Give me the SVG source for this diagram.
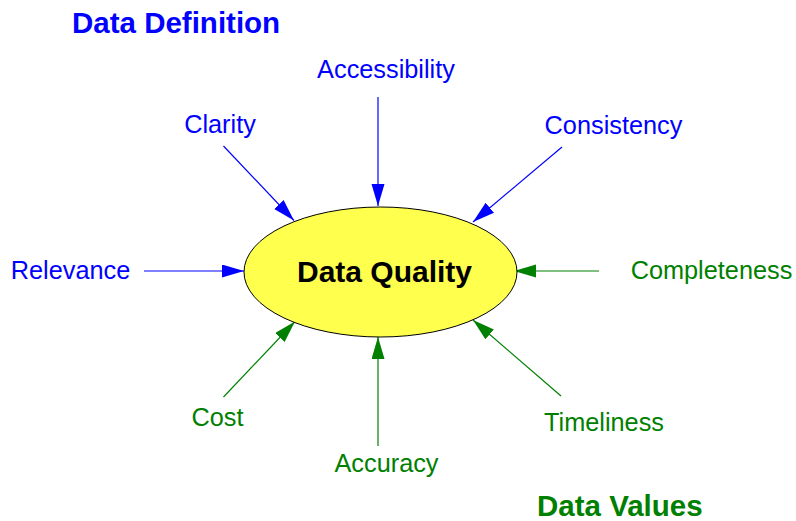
<svg xmlns="http://www.w3.org/2000/svg" width="796" height="521" viewBox="0 0 796 521">
<style>
text{font-family:"Liberation Sans",Arial,sans-serif}
.lbl{font-size:25.3px;text-anchor:middle}
.title{font-size:29.5px;font-weight:bold}
.b{fill:#0000ff}
.g{fill:#008000}
.lb{stroke:#0000ff;stroke-width:1.2;fill:none;marker-end:url(#ab)}
.lg{stroke:#008000;stroke-width:1.2;fill:none;marker-end:url(#ag)}
</style>
<defs>
<marker id="ab" markerUnits="userSpaceOnUse" markerWidth="24" markerHeight="14" refX="22" refY="6.5" orient="auto"><path d="M0,0 L22,6.5 L0,13 z" fill="#0000ff"/></marker>
<marker id="ag" markerUnits="userSpaceOnUse" markerWidth="24" markerHeight="14" refX="22" refY="6.5" orient="auto"><path d="M0,0 L22,6.5 L0,13 z" fill="#008000"/></marker>
</defs>
<rect width="796" height="521" fill="#ffffff"/>
<g id="connectors">
<line class="lb" x1="378" y1="97" x2="378" y2="206"/>
<line class="lb" x1="223.5" y1="146" x2="294" y2="220.5"/>
<line class="lb" x1="562" y1="147" x2="473" y2="222"/>
<line class="lb" x1="144" y1="271" x2="244" y2="271"/>
<line class="lg" x1="599" y1="271" x2="514" y2="271"/>
<line class="lg" x1="223.5" y1="397" x2="295" y2="321.5"/>
<line class="lg" x1="378" y1="446" x2="378" y2="337"/>
<line class="lg" x1="561" y1="396" x2="473" y2="320"/>
</g>
<g id="dataquality">
<ellipse cx="380.5" cy="272" rx="136.5" ry="65" fill="#ffff4d" stroke="#000000" stroke-width="1"/>
<text x="384.5" y="282" style="font-size:30px;font-weight:bold;text-anchor:middle" fill="#000000">Data Quality</text>
</g>
<g id="datadefinition"><text class="title b" x="72" y="33">Data Definition</text></g>
<g id="datavalues"><text class="title g" x="537" y="515.5">Data Values</text></g>
<g id="accessibility"><text class="lbl b" x="386" y="78">Accessibility</text></g>
<g id="clarity"><text class="lbl b" x="220" y="132.5">Clarity</text></g>
<g id="consistency"><text class="lbl b" x="613.5" y="134">Consistency</text></g>
<g id="relevance"><text class="lbl b" x="70.5" y="278.5">Relevance</text></g>
<g id="completeness"><text class="lbl g" x="711.5" y="278.5">Completeness</text></g>
<g id="cost"><text class="lbl g" x="217.5" y="426">Cost</text></g>
<g id="accuracy"><text class="lbl g" x="386.5" y="471.5">Accuracy</text></g>
<g id="timeliness"><text class="lbl g" x="604" y="431">Timeliness</text></g>
</svg>
